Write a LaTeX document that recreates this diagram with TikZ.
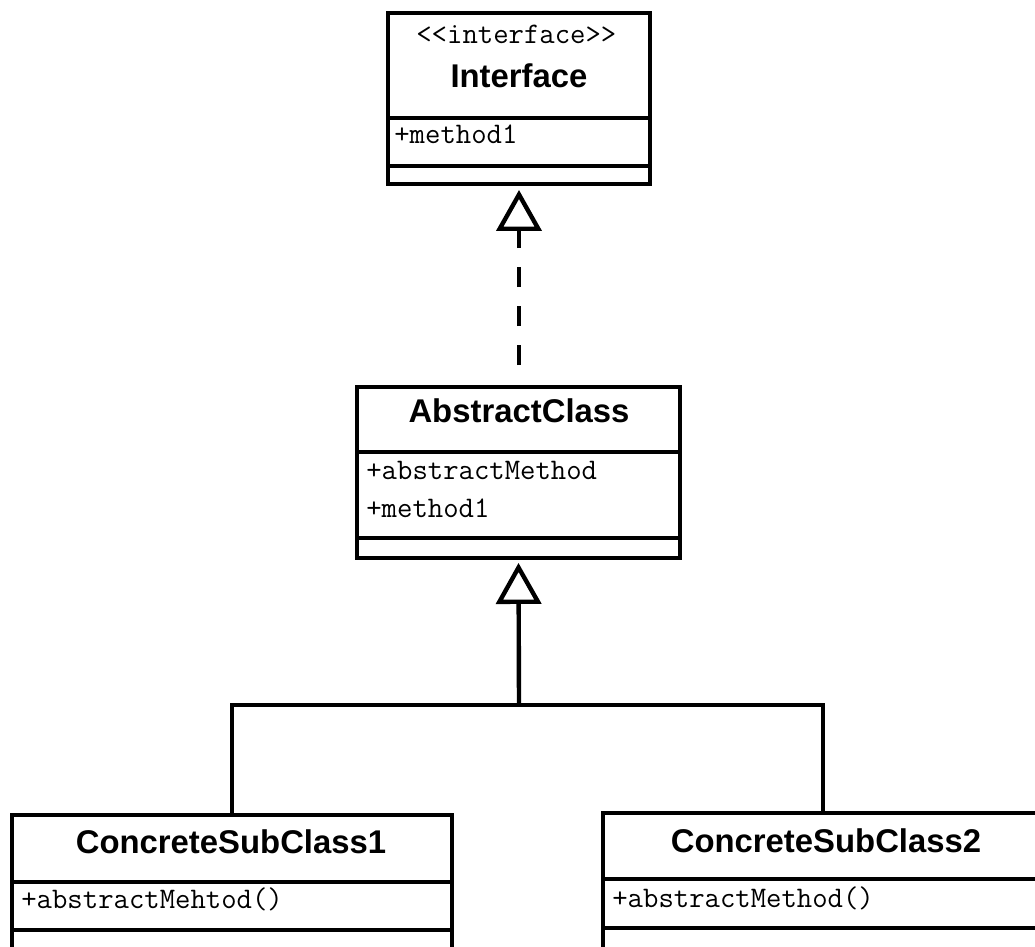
\documentclass[tikz,border=0pt]{standalone}
\usepackage{fontspec}
\setmainfont{Liberation Sans}
\usetikzlibrary{positioning,arrows.meta}

\tikzset{
  part/.style={draw, rectangle, line width=2.5pt, outer sep=0pt, inner sep=0pt},
  title/.style={anchor=base, inner sep=0pt, font=\bfseries\fontsize{18.7}{22}\selectfont},
  member/.style={anchor=base west, inner sep=0pt, font=\ttfamily\fontsize{17}{20}\selectfont},
  link/.style={line width=2.5pt},
  realize/.style={link, dash pattern=on 0.4cm off 0.38cm,
    -{Triangle[open, width=0.9cm, length=0.82cm]}, shorten >=0.12cm},
  generalize/.style={link, -{Triangle[open, width=0.9cm, length=0.82cm]}, shorten >=0.1cm}
}

\begin{document}
\begin{tikzpicture}[x=0.02cm, y=-0.02cm]
  \useasboundingbox (0,0) rectangle (1035,947);
  \clip (0,0) rectangle (1035,947);

  % Interface
  \node[part, minimum width=5.24cm, minimum height=2.1cm] (ifHead) at (519,65.5) {};
  \node[part, minimum width=5.24cm, minimum height=0.96cm, below=0pt of ifHead] (ifBody) {};
  \node[part, minimum width=5.24cm, minimum height=0.36cm, below=0pt of ifBody] (ifFoot) {};
  \node[member] (ifStereo) at (416,43) {<<interface>>};
  \node[title] (ifTitle) at (519,87) {Interface};
  \node[member] (ifM1) at (394,143) {+method1};

  % AbstractClass
  \node[part, minimum width=6.46cm, minimum height=1.3cm] (absHead) at (518.5,419.5) {};
  \node[part, minimum width=6.46cm, minimum height=1.72cm, below=0pt of absHead] (absBody) {};
  \node[part, minimum width=6.46cm, minimum height=0.4cm, below=0pt of absBody] (absFoot) {};
  \node[title] (absTitle) at (519,422) {AbstractClass};
  \node[member] (absM1) at (366,479) {+abstractMethod};
  \node[member] (absM2) at (366,517) {+method1};

  % ConcreteSubClass1
  \node[part, minimum width=8.8cm, minimum height=1.34cm] (sub1Head) at (232,848.5) {};
  \node[part, minimum width=8.8cm, minimum height=0.96cm, below=0pt of sub1Head] (sub1Body) {};
  \node[part, minimum width=8.8cm, minimum height=1.2cm, below=0pt of sub1Body] (sub1Foot) {};
  \node[title] (sub1Title) at (231,853) {ConcreteSubClass1};
  \node[member] (sub1M1) at (21,908) {+abstractMehtod()};

  % ConcreteSubClass2
  \node[part, minimum width=8.8cm, minimum height=1.32cm] (sub2Head) at (823,846) {};
  \node[part, minimum width=8.8cm, minimum height=0.98cm, below=0pt of sub2Head] (sub2Body) {};
  \node[part, minimum width=8.8cm, minimum height=1.2cm, below=0pt of sub2Body] (sub2Foot) {};
  \node[title] (sub2Title) at (826,852) {ConcreteSubClass2};
  \node[member] (sub2M1) at (612,907) {+abstractMethod()};

  % relations
  \coordinate (dashStart) at (519,365);
  \coordinate (fork) at (519,705);
  \draw[realize] (dashStart) -- (ifFoot.south);
  \draw[generalize] (fork) -- (absFoot.south);
  \draw[link] (sub1Head.north) |- (fork) -| (sub2Head.north);
\end{tikzpicture}
\end{document}
